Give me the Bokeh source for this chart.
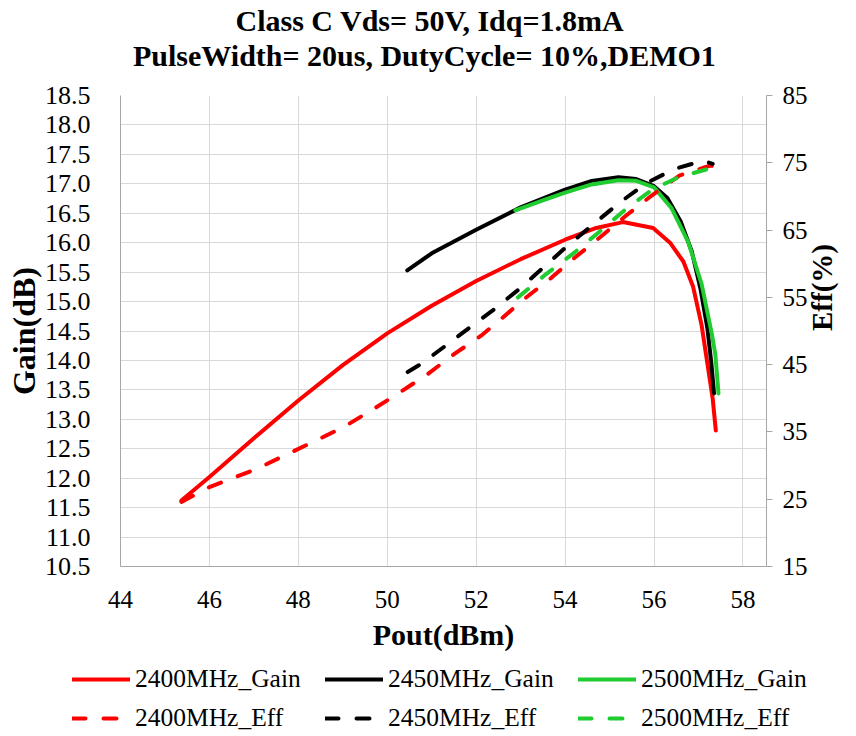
import math
from bokeh.plotting import figure
from bokeh.models import (Range1d, LinearAxis, FixedTicker, PrintfTickFormatter,
                          Legend, LegendItem, Title)
from bokeh.embed import file_html
from bokeh.resources import INLINE

# ---------------- data ----------------
x_ticks = [44, 46, 48, 50, 52, 54, 56, 58]
gain_ticks = [10.5, 11.0, 11.5, 12.0, 12.5, 13.0, 13.5, 14.0, 14.5, 15.0,
              15.5, 16.0, 16.5, 17.0, 17.5, 18.0, 18.5]
eff_ticks = [15, 25, 35, 45, 55, 65, 75, 85]

pout_2400_gain = [45.37, 46.0, 47.0, 48.0, 49.0, 50.0, 51.0, 52.0, 53.0, 54.0,
                  54.7, 55.3, 55.98, 56.36, 56.66, 56.88, 57.07, 57.22, 57.32, 57.39]
gain_2400 = [11.62, 12.02, 12.68, 13.32, 13.92, 14.46, 14.93, 15.35, 15.72, 16.05,
             16.25, 16.35, 16.25, 16.0, 15.68, 15.25, 14.6, 13.85, 13.35, 12.81]

pout_2450_gain = [50.45, 51.0, 52.0, 53.0, 54.0, 54.6, 55.2, 55.6, 56.0, 56.3,
                  56.6, 56.85, 57.05, 57.2, 57.29, 57.35]
gain_2450 = [15.53, 15.82, 16.22, 16.60, 16.90, 17.05, 17.11, 17.08, 16.96, 16.76,
             16.36, 15.85, 15.20, 14.55, 13.95, 13.44]

pout_2500_gain = [52.88, 53.5, 54.0, 54.6, 55.2, 55.6, 56.0, 56.4, 56.77, 57.07,
                  57.3, 57.38, 57.45]
gain_2500 = [16.55, 16.72, 16.85, 16.99, 17.06, 17.05, 16.94, 16.58, 16.01, 15.30,
             14.45, 14.1, 13.44]

pout_2400_eff = [45.37, 46.0, 47.06, 48.39, 49.04, 49.69, 50.29, 50.91, 51.51, 52.11,
                 52.53, 53.05, 53.69, 54.18, 54.78, 55.38, 55.94, 56.57, 57.27, 57.4]
eff_2400 = [24.6, 26.8, 29.5, 33.7, 35.8, 38.4, 40.9, 43.6, 46.6, 49.3,
            51.6, 54.6, 57.9, 60.7, 63.9, 67.2, 70.1, 73.1, 74.6, 74.35]

pout_2450_eff = [50.46, 50.76, 51.37, 51.97, 52.38, 52.98, 53.54, 54.06, 54.66, 55.23,
                 55.83, 56.47, 57.1, 57.32]
eff_2450 = [43.9, 45.1, 48.1, 51.1, 53.1, 56.3, 59.6, 62.7, 66.0, 69.1,
            72.0, 74.1, 75.3, 74.85]

pout_2500_eff = [52.94, 53.58, 54.18, 54.78, 55.38, 55.98, 56.57, 57.17, 57.47]
eff_2500 = [55.0, 58.5, 61.5, 64.8, 68.2, 71.1, 72.9, 74.0, 73.5]

title_line1 = "Class C Vds= 50V, Idq=1.8mA"
title_line2 = "PulseWidth= 20us, DutyCycle= 10%,DEMO1"
series_labels = ["2400MHz_Gain", "2450MHz_Gain", "2500MHz_Gain",
                 "2400MHz_Eff", "2450MHz_Eff", "2500MHz_Eff"]

# ---------------- styling ----------------
FONT = "Liberation Serif"
RED = "#FF0000"
BLACK = "#000000"
GREEN = "#20CC30"
AXIS_COLOR = "#A6A6A6"
GRID_COLOR = "#D9D9D9"
LW = 4
DASH = "13 18"

p = figure(width=856, height=662, output_backend="svg", toolbar_location=None,
           x_range=Range1d(44, 58.53), y_range=Range1d(10.5, 18.5),
           min_border_left=120, min_border_right=89, min_border_top=95,
           min_border_bottom=96)
p.extra_y_ranges = {"eff": Range1d(15, 85)}
p.outline_line_color = None
p.background_fill_color = "white"
p.border_fill_color = "white"

# grids
p.xgrid.ticker = FixedTicker(ticks=x_ticks)
p.ygrid.ticker = FixedTicker(ticks=gain_ticks)
for g in (p.xgrid, p.ygrid):
    g.grid_line_color = GRID_COLOR
    g.grid_line_width = 1

# bottom axis
xa = p.xaxis[0]
xa.ticker = FixedTicker(ticks=x_ticks)
xa.axis_label = "Pout(dBm)"
xa.major_tick_out = 0
xa.major_tick_in = 0
xa.major_label_standoff = 24
xa.axis_label_standoff = 7
xa.major_label_text_font_size = "25px"
xa.axis_label_text_font_size = "30px"

# left axis
ya = p.yaxis[0]
ya.ticker = FixedTicker(ticks=gain_ticks)
ya.formatter = PrintfTickFormatter(format="%.1f")
ya.axis_label = "Gain(dB)"
ya.major_tick_out = 0
ya.major_tick_in = 0
ya.major_label_standoff = 30
ya.axis_label_standoff = 0
ya.major_label_text_font_size = "26px"
ya.axis_label_text_font_size = "32px"

# right axis
ra = LinearAxis(y_range_name="eff", ticker=FixedTicker(ticks=eff_ticks),
                axis_label="Eff(%)")
ra.major_tick_out = 6
ra.major_tick_in = 0
ra.major_label_standoff = 10
ra.axis_label_standoff = 11
ra.major_label_text_font_size = "25px"
ra.axis_label_text_font_size = "29px"
try:
    ra.axis_label_orientation = math.pi / 2
except Exception:
    pass
p.add_layout(ra, "right")

for ax in (xa, ya, ra):
    ax.axis_line_color = AXIS_COLOR
    ax.axis_line_width = 1
    ax.major_tick_line_color = AXIS_COLOR
    ax.minor_tick_line_color = None
    ax.minor_tick_out = 0
    ax.minor_tick_in = 0
    ax.major_label_text_font = FONT
    ax.major_label_text_color = "black"
    ax.axis_label_text_font = FONT
    ax.axis_label_text_font_style = "bold"
    ax.axis_label_text_color = "black"

# ---------------- series ----------------
common_solid = dict(line_width=LW, line_join="round", line_cap="round")
common_dash = dict(line_width=LW, line_join="round", line_cap="round", line_dash=DASH)
series = [
    (pout_2400_gain, gain_2400, RED, None),
    (pout_2450_gain, gain_2450, BLACK, None),
    (pout_2500_gain, gain_2500, GREEN, None),
    (pout_2400_eff, eff_2400, RED, "eff"),
    (pout_2450_eff, eff_2450, BLACK, "eff"),
    (pout_2500_eff, eff_2500, GREEN, "eff"),
]
for xs, ys, col, rng in series:
    if rng is None:
        p.line(xs, ys, line_color=col, **common_solid)
    else:
        p.line(xs, ys, y_range_name=rng, line_color=col, **common_dash)

# ---------------- title (stacked from the frame outward) ----------------
p.add_layout(Title(text=" ", text_font_size="20px", standoff=0), "above")
p.add_layout(Title(text=title_line2, align="left", offset=12.5, standoff=0,
                   text_font=FONT, text_font_style="bold", text_font_size="30px",
                   text_color="black"), "above")
p.add_layout(Title(text=title_line1, align="left", offset=115, standoff=0,
                   text_font=FONT, text_font_style="bold", text_font_size="30px",
                   text_color="black"), "above")

# ---------------- legend strip (3 columns x 2 rows), a separate root ----------------
# The strip's own view range is far from the data, so its lines only serve as legend keys.
lp = figure(width=856, height=74, output_backend="svg", toolbar_location=None,
            x_range=Range1d(0, 1), y_range=Range1d(0, 1),
            x_axis_type=None, y_axis_type=None, min_border=0)
lp.outline_line_color = None
lp.background_fill_color = "white"
lp.border_fill_color = "white"

items = []
for (xs, ys, col, rng), lab in zip(series, series_labels):
    style = common_solid if rng is None else common_dash
    r = lp.line(xs, ys, line_color=col, **style)
    items.append(LegendItem(label=lab, renderers=[r]))

legend = Legend(items=items, orientation="horizontal", ncols=3, location=(72, 3))
legend.label_text_font = FONT
legend.label_text_font_size = "25.5px"
legend.label_text_color = "black"
legend.glyph_width = 58
legend.glyph_height = 20
legend.label_height = 20
legend.label_width = 181
legend.label_standoff = 5
legend.spacing = 9
legend.padding = 0
legend.margin = 0
legend.border_line_color = None
legend.background_fill_alpha = 0
lp.add_layout(legend)

open("out.html", "w").write(file_html([p, lp], INLINE))
